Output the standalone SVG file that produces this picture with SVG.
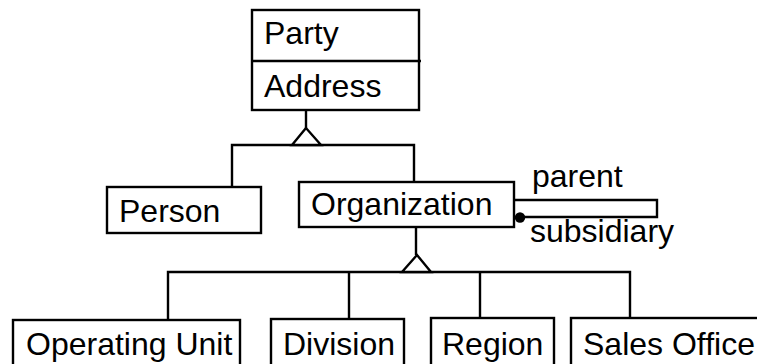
<svg xmlns="http://www.w3.org/2000/svg" width="757" height="364" viewBox="0 0 757 364">
<style>
.box{fill:#fff;stroke:#000;stroke-width:2.4}
.ln{fill:none;stroke:#000;stroke-width:2.4}
.tri{fill:#fff;stroke:#000;stroke-width:2.4;stroke-linejoin:miter}
text{font-family:"Liberation Sans",Arial,sans-serif;font-size:32px;fill:#000}
</style>
<rect width="757" height="364" fill="#fff"/>
<g id="connectors">
<line class="ln" x1="306" y1="110" x2="306" y2="128"/>
<polyline class="ln" points="232,187 232,145 414,145 414,182"/>
<polygon class="tri" points="306,128 292,145 321,145"/>
<line class="ln" x1="416" y1="227" x2="416" y2="255"/>
<polyline class="ln" points="168,320 168,272 630,272 630,318"/>
<line class="ln" x1="349" y1="272" x2="349" y2="319"/>
<line class="ln" x1="480" y1="272" x2="480" y2="318"/>
<polygon class="tri" points="417,255 402,272 431,272"/>
<polyline class="ln" points="514,200 657,200 657,217 520,217"/>
<circle cx="520" cy="217.5" r="5.2" fill="#000"/>
<text x="532" y="187">parent</text>
<text x="530" y="242">subsidiary</text>
</g>
<g id="party">
<rect class="box" x="252" y="10" width="167" height="100"/>
<line class="ln" x1="252" y1="61" x2="421" y2="61"/>
<text x="264" y="44">Party</text>
<text x="264" y="97">Address</text>
</g>
<g id="person">
<rect class="box" x="107" y="187" width="154" height="46"/>
<text x="119" y="222">Person</text>
</g>
<g id="organization">
<rect class="box" x="299" y="182" width="215" height="45"/>
<text x="311" y="215">Organization</text>
</g>
<g id="operating-unit">
<rect class="box" x="13" y="320" width="227" height="60"/>
<text x="26" y="355">Operating Unit</text>
</g>
<g id="division">
<rect class="box" x="271" y="319" width="133" height="60"/>
<text x="283" y="355">Division</text>
</g>
<g id="region">
<rect class="box" x="431" y="318" width="123" height="60"/>
<text x="442" y="355">Region</text>
</g>
<g id="sales-office">
<rect class="box" x="571" y="318" width="200" height="60"/>
<text x="583" y="355">Sales Office</text>
</g>
</svg>
